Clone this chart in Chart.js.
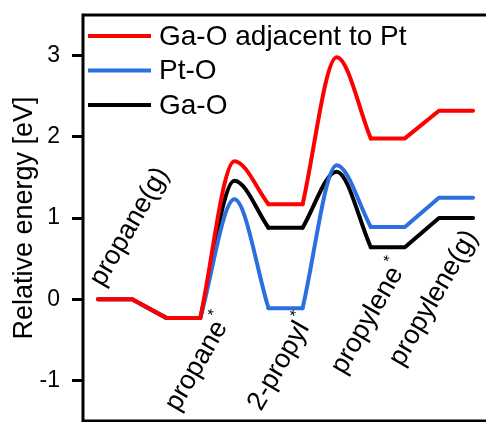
<!DOCTYPE html>
<html><head><meta charset="utf-8">
<script src="https://cdn.jsdelivr.net/npm/chart.js@4.4.1/dist/chart.umd.min.js"></script>
<style>
html,body{margin:0;padding:0;background:#fff;overflow:hidden;}
#wrap{position:relative;width:500px;height:422px;}
</style></head><body>
<div id="wrap"><canvas id="c"></canvas></div>
<script>
// ---- data ----
const reactionCoord = [0, 1, 2, 3, 4, 5, 6, 7, 8, 9, 10, 11];
const transitionIdx = [4, 7];
const seriesNames = ['Ga-O adjacent to Pt', 'Pt-O', 'Ga-O'];
const gaOAdjacentPt = [0, 0, -0.23, -0.23, 1.70, 1.17, 1.17, 2.98, 1.98, 1.98, 2.32, 2.32];
const ptO          = [0, 0, -0.23, -0.23, 1.23, -0.11, -0.11, 1.65, 0.89, 0.89, 1.25, 1.25];
const gaO          = [0, 0, -0.23, -0.23, 1.46, 0.88, 0.88, 1.57, 0.64, 0.64, 1.00, 1.00];
const stateLabels = ['propane(g)', 'propane', '2-propyl', 'propylene', 'propylene(g)'];
const stateStar   = [false, true, true, true, false];
const yTicks = [-1, 0, 1, 2, 3];

// ---- styling ----
const seriesColors = ['#FF0000', '#2B6FE0', '#000000'];
const drawOrder = [0, 1, 2];
const FONT = '"Liberation Sans", Arial, sans-serif';
const labelAnchors = [[0.15, 0.14], [2.35, -1.395], [4.78, -1.39], [7.22, -0.94], [8.92, -0.84]];

function buildSegments(values) {
  const pts = reactionCoord.map((x, i) => ({x, y: values[i]}));
  const segs = [];
  let start = 0;
  transitionIdx.forEach(t => {
    segs.push({pts: pts.slice(start, t), curved: false});
    segs.push({pts: pts.slice(t - 1, t + 2), curved: true});
    start = t + 1;
  });
  segs.push({pts: pts.slice(start), curved: false});
  return segs;
}

const allSeries = [gaOAdjacentPt, ptO, gaO];
const datasets = [];
allSeries.forEach((vals, si) => {
  buildSegments(vals).forEach(seg => {
    datasets.push({
      label: seriesNames[si],
      data: seg.pts,
      borderColor: seriesColors[si],
      backgroundColor: seriesColors[si],
      borderWidth: 4,
      pointRadius: 0,
      fill: false,
      cubicInterpolationMode: seg.curved ? 'monotone' : 'default',
      tension: 0,
      borderCapStyle: 'round',
      borderJoinStyle: 'round',
      order: drawOrder[si]
    });
  });
});

const framePlugin = {
  id: 'frame',
  afterDatasetsDraw(chart) {
    const {ctx, chartArea: a} = chart;
    ctx.save();
    ctx.strokeStyle = '#000';
    ctx.lineWidth = 3;
    ctx.strokeRect(a.left, a.top, a.right - a.left, a.bottom - a.top);
    ctx.restore();
  }
};

const legendPlugin = {
  id: 'customLegend',
  afterDatasetsDraw(chart) {
    const {ctx, chartArea: a} = chart;
    ctx.save();
    ctx.font = '28px ' + FONT;
    ctx.textBaseline = 'middle';
    ctx.fillStyle = '#000';
    seriesNames.forEach((name, i) => {
      const y = a.top + 21 + i * 34.5;
      ctx.strokeStyle = seriesColors[i];
      ctx.lineWidth = 4;
      ctx.beginPath();
      ctx.moveTo(a.left + 5, y);
      ctx.lineTo(a.left + 68, y);
      ctx.stroke();
      ctx.fillText(name, a.left + 76, y + 1);
    });
    ctx.restore();
  }
};

const stateLabelPlugin = {
  id: 'stateLabels',
  afterDatasetsDraw(chart) {
    const {ctx, scales} = chart;
    ctx.save();
    ctx.fillStyle = '#000';
    stateLabels.forEach((txt, i) => {
      const px = scales.x.getPixelForValue(labelAnchors[i][0]);
      const py = scales.y.getPixelForValue(labelAnchors[i][1]);
      ctx.save();
      ctx.translate(px, py);
      ctx.rotate(-60 * Math.PI / 180);
      ctx.font = '27px ' + FONT;
      ctx.textAlign = 'left';
      ctx.textBaseline = 'alphabetic';
      ctx.fillText(txt, 0, 0);
      if (stateStar[i]) {
        const w = ctx.measureText(txt).width;
        ctx.font = '16px ' + FONT;
        ctx.fillText('*', w + 1, -14);
      }
      ctx.restore();
    });
    ctx.restore();
  }
};

new Chart(document.getElementById('c'), {
  type: 'line',
  data: {datasets},
  options: {
    responsive: true,
    maintainAspectRatio: false,
    animation: false,
    devicePixelRatio: 1,
    layout: {padding: {top: 15, bottom: 1, left: 0, right: 0}},
    plugins: {legend: {display: false}, tooltip: {enabled: false}},
    scales: {
      x: {type: 'linear', min: -0.44, max: 11.79, display: false},
      y: {
        type: 'linear', min: -1.5, max: 3.5,
        afterFit(s) { s.width = 83; s.paddingTop = 0; s.paddingBottom = 0; },
        afterBuildTicks(s) { s.ticks = yTicks.map(v => ({value: v})); },
        ticks: {font: {size: 23, family: FONT}, color: '#000', padding: 12},
        grid: {drawOnChartArea: false, drawTicks: true, tickLength: 11, tickWidth: 3, tickColor: '#000'},
        border: {display: false},
        title: {display: true, text: 'Relative energy [eV]', font: {size: 27, family: FONT}, color: '#000', padding: {top: 8, bottom: 0}}
      }
    }
  },
  plugins: [framePlugin, legendPlugin, stateLabelPlugin]
});
</script>
</body></html>
